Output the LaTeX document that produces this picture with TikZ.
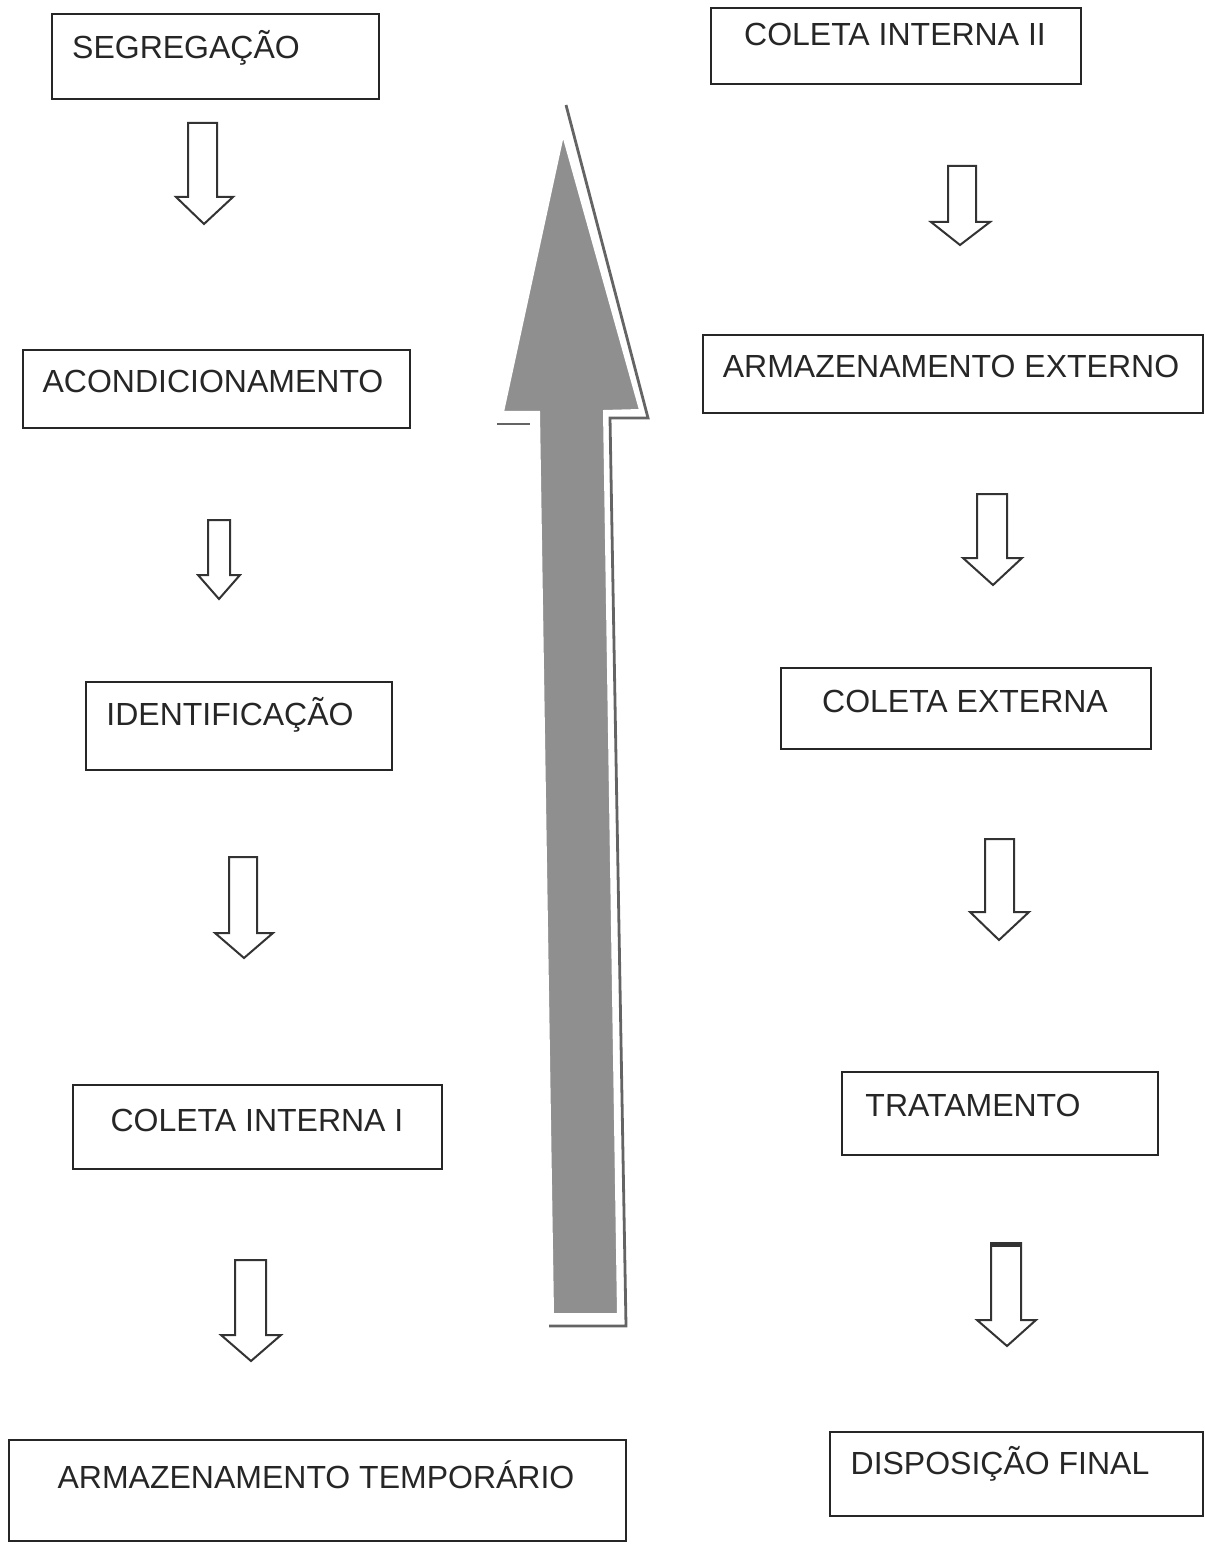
\documentclass[tikz,border=0pt]{standalone}
\usepackage{fontspec}
\setmainfont{Liberation Sans}
\usetikzlibrary{fit}
\definecolor{arrowgray}{RGB}{143,143,143}
\definecolor{shadowgray}{RGB}{100,100,100}
\begin{document}
\begin{tikzpicture}[x=0.5pt,y=-0.5pt,
  box/.style={draw=black!85, line width=1pt, inner sep=0pt},
  lbl/.style={font=\fontsize{16}{19}\selectfont, inner sep=0pt, text=black!85, anchor=base},
  blk/.style={draw=black!80, line width=1pt, fill=white, line join=miter},
  bigarrow/.style={fill=arrowgray, draw=white, line width=1pt},
  bigshadow/.style={draw=shadowgray, line width=1.4pt, line join=miter}]
\useasboundingbox (0,0) rectangle (1204,1545);

% big arrow: shadow then body
\draw[bigshadow] (566,105) -- (648,418) -- (610,418) -- (626,1326) -- (549,1326);
\draw[bigshadow] (497,424) -- (530,424);
\fill[bigarrow] (563,135) -- (640,410) -- (604,411) -- (618,1314) -- (553,1314) -- (539,412) -- (503,412) -- cycle;

% left column boxes
\node[box, fit={(52,14) (379,99)}] (b1) {};
\node[lbl] (t1) at (186,59) {SEGREGAÇÃO};
\node[box, fit={(23,350) (410,428)}] (b2) {};
\node[lbl] (t2) at (213,393) {ACONDICIONAMENTO};
\node[box, fit={(86,682) (392,770)}] (b3) {};
\node[lbl] (t3) at (230,725) {IDENTIFICAÇÃO};
\node[box, fit={(73,1085) (442,1169)}] (b4) {};
\node[lbl] (t4) at (257,1131) {COLETA INTERNA I};
\node[box, fit={(9,1440) (626,1541)}] (b5) {};
\node[lbl] (t5) at (316,1488) {ARMAZENAMENTO TEMPORÁRIO};

% right column boxes
\node[box, fit={(711,8) (1081,84)}] (b6) {};
\node[lbl] (t6) at (895,46) {COLETA INTERNA II};
\node[box, fit={(703,335) (1203,413)}] (b7) {};
\node[lbl] (t7) at (951,378) {ARMAZENAMENTO EXTERNO};
\node[box, fit={(781,668) (1151,749)}] (b8) {};
\node[lbl] (t8) at (965,712) {COLETA EXTERNA};
\node[box, fit={(842,1072) (1158,1155)}] (b9) {};
\node[lbl] (t9) at (973,1116) {TRATAMENTO};
\node[box, fit={(830,1432) (1203,1516)}] (b10) {};
\node[lbl] (t10) at (1000,1474) {DISPOSIÇÃO FINAL};

% small block arrows (left)
\draw[blk] (188,123) -- (217,123) -- (217,197) -- (233,197) -- (204,224) -- (176,197) -- (188,197) -- cycle;
\draw[blk] (208,520) -- (230,520) -- (230,575) -- (240,575) -- (219,599) -- (198,575) -- (208,575) -- cycle;
\draw[blk] (229,857) -- (257,857) -- (257,933) -- (273,933) -- (244,958) -- (215,933) -- (229,933) -- cycle;
\draw[blk] (235,1260) -- (266,1260) -- (266,1335) -- (281,1335) -- (251,1361) -- (221,1335) -- (235,1335) -- cycle;

% small block arrows (right)
\draw[blk] (948,166) -- (976,166) -- (976,222) -- (990,222) -- (960,245) -- (931,222) -- (948,222) -- cycle;
\draw[blk] (977,494) -- (1007,494) -- (1007,558) -- (1022,558) -- (993,585) -- (963,558) -- (977,558) -- cycle;
\draw[blk] (985,839) -- (1014,839) -- (1014,912) -- (1029,912) -- (999,940) -- (970,912) -- (985,912) -- cycle;
\draw[blk] (991,1243) -- (1021,1243) -- (1021,1320) -- (1036,1320) -- (1007,1346) -- (977,1320) -- (991,1320) -- cycle;
\draw[black!80, line width=2pt] (991,1245) -- (1021,1245);
\end{tikzpicture}
\end{document}
